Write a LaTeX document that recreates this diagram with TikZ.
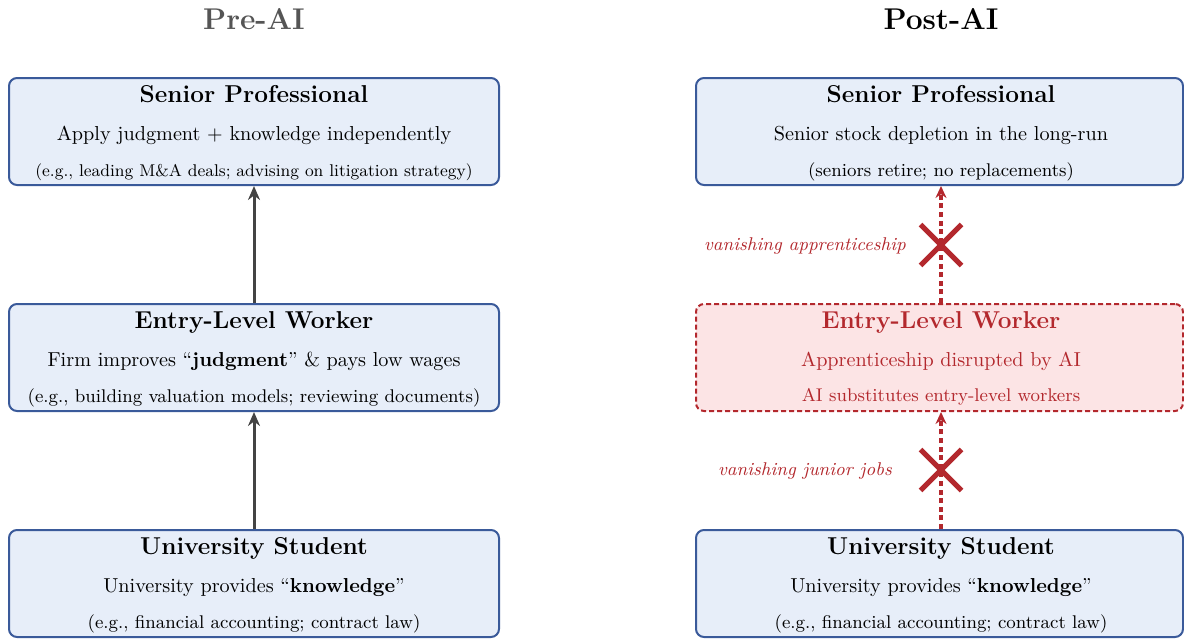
\documentclass[tikz,border=0pt]{standalone}
\usetikzlibrary{arrows.meta,shapes.misc}
\definecolor{boxfill}{HTML}{E7EEF9}
\definecolor{boxline}{HTML}{3A5A9A}
\definecolor{lossred}{HTML}{B3282D}
\definecolor{lossfill}{HTML}{FCE4E5}
\definecolor{flowgray}{HTML}{444444}
\definecolor{headgray}{HTML}{555555}
\begin{document}
\begin{tikzpicture}[x=0.5pt,y=-0.5pt,
  stage/.style={draw=boxline,fill=boxfill,line width=1pt,rounded corners=4pt,
    minimum width=245pt,minimum height=53.5pt,inner sep=0pt},
  lostage/.style={stage,draw=lossred,fill=lossfill,dash pattern=on 2.5pt off 1.5pt},
  ttl/.style={anchor=base,font=\fontsize{12.2}{14}\selectfont\bfseries,inner sep=0pt},
  ln/.style={anchor=base,font=\fontsize{10.1}{12}\selectfont,inner sep=0pt},
  ex/.style={anchor=base,font=\fontsize{9.2}{11}\selectfont,inner sep=0pt},
  exsmall/.style={ex,font=\fontsize{8.5}{10}\selectfont},
  head/.style={anchor=base,font=\fontsize{15}{18}\selectfont\bfseries,inner sep=0pt},
  flow/.style={draw=flowgray,line width=1.5pt,-{Stealth[length=7pt,width=6pt]}},
  cut/.style={draw=lossred,line width=1.6pt,dash pattern=on 2.5pt off 1.8pt,
    -{Stealth[length=6pt,width=5.5pt]}},
  lost/.style={cross out,draw=lossred,line width=2.5pt,minimum size=18pt,inner sep=0pt},
  note/.style={anchor=base,font=\fontsize{9.25}{11}\selectfont\itshape,text=lossred,inner sep=0pt}
]
\useasboundingbox (0,0) rectangle (1184,638);

% column headings
\node[head,text=headgray] (hpre) at (254,29) {Pre-AI};
\node[head] (hpost) at (941,29) {Post-AI};

% ---- before AI ----
\node[stage] (sp1) at (254,131.5) {};
\node[ttl] (sp1t) at (254,102) {Senior Professional};
\node[ln]  (sp1a) at (254,140) {Apply judgment $+$ knowledge independently};
\node[exsmall] (sp1b) at (254,176) {(e.g., leading M\&A deals; advising on litigation strategy)};

\node[stage] (ew1) at (254,357.5) {};
\node[ttl] (ew1t) at (254,328) {Entry-Level Worker};
\node[ln]  (ew1a) at (254,366) {Firm improves “\textbf{judgment}” \& pays low wages};
\node[ex]  (ew1b) at (254,402) {(e.g., building valuation models; reviewing documents)};

\node[stage] (us1) at (254,583.5) {};
\node[ttl] (us1t) at (254,554) {University Student};
\node[ln]  (us1a) at (254,592) {University provides “\textbf{knowledge}”};
\node[ex]  (us1b) at (254,628) {(e.g., financial accounting; contract law)};

\draw[flow] (us1.north) -- (ew1.south);
\draw[flow] (ew1.north) -- (sp1.south);

% ---- after AI ----
\begin{scope}[stage/.append style={minimum width=243.5pt}]
\node[stage] (sp2) at (939.5,131.5) {};
\node[ttl] (sp2t) at (941,102) {Senior Professional};
\node[ln]  (sp2a) at (941,140) {Senior stock depletion in the long-run};
\node[ex]  (sp2b) at (941,176) {(seniors retire; no replacements)};

\node[lostage] (ew2) at (939.5,357.5) {};
\node[ttl,text=lossred] (ew2t) at (941,328) {Entry-Level Worker};
\node[ln,text=lossred]  (ew2a) at (941,366) {Apprenticeship disrupted by AI};
\node[ex,text=lossred]  (ew2b) at (941,401) {AI substitutes entry-level workers};

\node[stage] (us2) at (939.5,583.5) {};
\node[ttl] (us2t) at (941,554) {University Student};
\node[ln]  (us2a) at (941,592) {University provides “\textbf{knowledge}”};
\node[ex]  (us2b) at (941,628) {(e.g., financial accounting; contract law)};
\end{scope}

% broken links
\node[lost] (x1) at (941,245) {};
\node[lost] (x2) at (941,470) {};
\node[note] (n1) at (805,250) {vanishing apprenticeship};
\node[note] (n2) at (805,475) {vanishing junior jobs};

\draw[cut] (us2.north -| x2) -- (ew2.south -| x2);
\draw[cut] (ew2.north -| x1) -- (sp2.south -| x1);
\end{tikzpicture}
\end{document}
